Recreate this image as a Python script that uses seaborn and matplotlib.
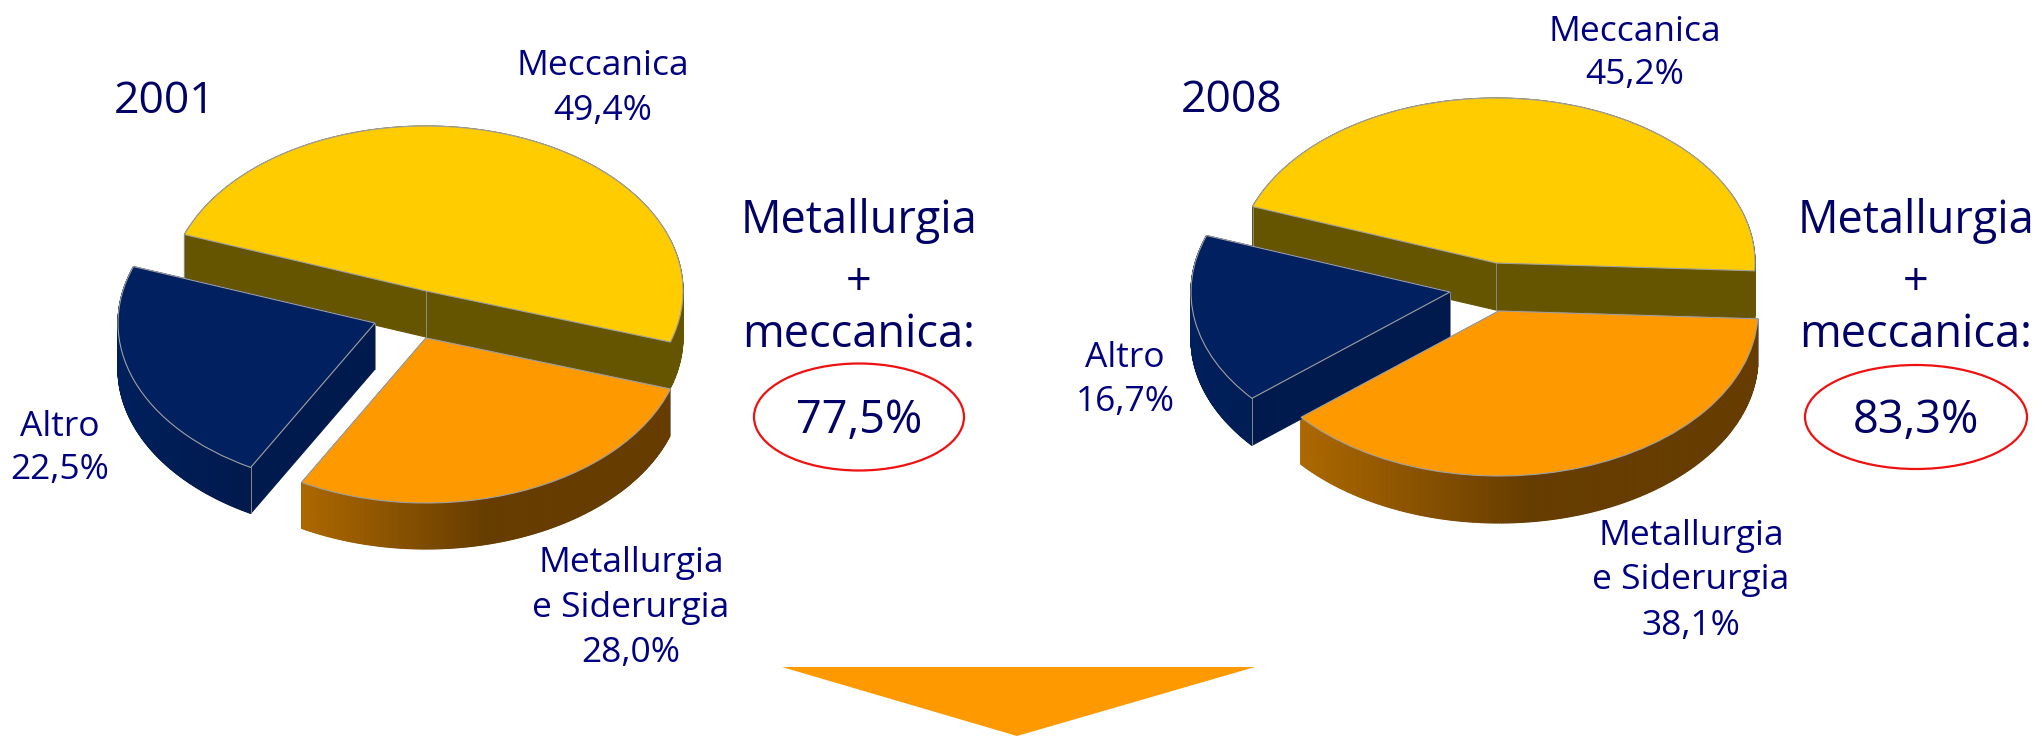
import matplotlib
matplotlib.use("Agg")
import matplotlib.pyplot as plt
import numpy as np
import seaborn as sns
from matplotlib.patches import Ellipse, Polygon
from matplotlib.transforms import Affine2D

sectors = ["Meccanica", "Metallurgia\ne Siderurgia", "Altro"]
shares_2001 = [49.4, 28.0, 22.5]
shares_2008 = [45.2, 38.1, 16.7]
total_labels = ["77,5%", "83,3%"]
years = ["2001", "2008"]

NAVY = "#000080"
DARK_NAVY = "#000066"
top_colors = ["#ffcc00", "#ff9900", "#002060"]
wall_ramps = [["#665500", "#665500"],
              ["#ad6800", "#663c00", "#663c00"],
              ["#001f5c", "#001a4d", "#001a4d"]]

sns.set_theme(style="white")
plt.rcParams["font.family"] = ["Open Sans", "DejaVu Sans"]

fig, ax = plt.subplots(figsize=(20.44, 7.36), dpi=100)
fig.subplots_adjust(0, 0, 1, 1)


def draw_pie(values, start, centers, rx, ry, depth):
    wedges, _ = ax.pie(values, colors=top_colors, startangle=start, counterclock=False, radius=1,
                       normalize=True, wedgeprops=dict(edgecolor="#a0a0a0", linewidth=0.8))
    for wedge, (cx, cy), ramp in zip(wedges, centers, wall_ramps):
        # side wall, one quad per outline segment
        t = np.radians(np.linspace(wedge.theta1, wedge.theta2, 300))
        xs = np.r_[cx, cx + rx * np.cos(t), cx]
        ys = np.r_[cy, cy - ry * np.sin(t), cy]
        shades = sns.blend_palette(ramp, 256)
        for i in range(len(xs) - 1):
            pos = (xs[i] - xs.min()) / (xs.max() - xs.min())
            c = shades[int(pos * 255)]
            # cut faces get the darker end of the ramp
            if i == 0 or i == len(xs) - 2:
                c = ramp[-1]
            ax.add_patch(Polygon([(xs[i], ys[i]), (xs[i + 1], ys[i + 1]),
                                  (xs[i + 1], ys[i + 1] + depth), (xs[i], ys[i] + depth)],
                                 facecolor=c, edgecolor=c, linewidth=0.8, zorder=2))
        # vertical seams at the slice corners
        for k in [0, -2]:
            ax.plot([xs[k]] * 2, [ys[k], ys[k] + depth], color="#8a8a8a", lw=0.7, zorder=2.5)
        wedge.set_transform(Affine2D().scale(rx, -ry).translate(cx, cy) + ax.transData)
        wedge.set_zorder(3)


draw_pie(shares_2001, 160, [(426, 291), (426, 338), (375, 323)], 257, 165, 46)
draw_pie(shares_2008, 160, [(1496, 263), (1499, 311), (1450, 292)], 259, 165, 47)

ax.set_aspect("auto")
ax.set_xlim(0, 2044)
ax.set_ylim(736, 0)
ax.axis("off")


def pct(v):
    return f"{v:.1f}".replace(".", ",") + "%"


def label(x, y, s, size=25.5, color=NAVY):
    ax.text(x, y + 3, s, ha="center", va="center", color=color, fontsize=size, zorder=5)


label(165, 99, years[0], 32, DARK_NAVY)
label(1232, 98, years[1], 32, DARK_NAVY)

label(603, 63, sectors[0])
label(603, 108, pct(shares_2001[0]))
label(60, 424, sectors[2])
label(60, 467, pct(shares_2001[2]))
label(631, 560, "Metallurgia")
label(631, 605, "e Siderurgia")
label(631, 650, pct(shares_2001[1]))

label(1635, 29, sectors[0])
label(1635, 72, pct(shares_2008[0]))
label(1125, 355, sectors[2])
label(1125, 399, pct(shares_2008[2]))
label(1691, 533, "Metallurgia")
label(1691, 577, "e Siderurgia")
label(1691, 623, pct(shares_2008[1]))

for x, w, h, total in zip([859, 1916], [210, 222], [107, 104], total_labels):
    label(x, 218, "Metallurgia", 32.5, DARK_NAVY)
    label(x, 280, "+", 32.5, DARK_NAVY)
    label(x, 332, "meccanica:", 32.5, DARK_NAVY)
    ax.add_patch(Ellipse((x, 417), w, h, facecolor="none", edgecolor="#ee1111", linewidth=1.6, zorder=4))
    label(x, 418, total, 32.5, DARK_NAVY)

ax.add_patch(Polygon([(782, 667), (1255, 667), (1017, 736)], facecolor="#ff9900", edgecolor="none", zorder=4))

plt.savefig("out.png", dpi=100)
